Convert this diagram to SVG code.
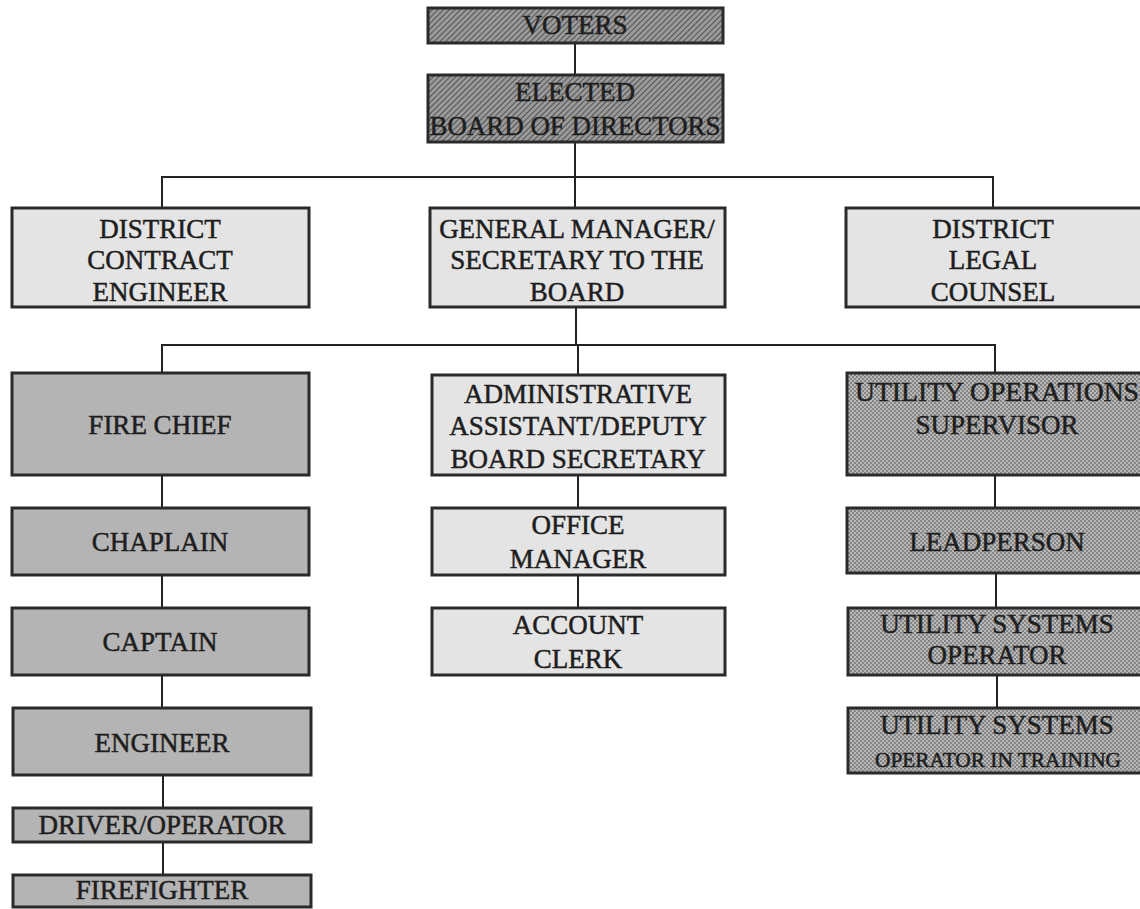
<svg xmlns="http://www.w3.org/2000/svg" width="1140" height="909" viewBox="0 0 1140 909">
<style>
.box{stroke:#2a2a2a;stroke-width:3}
.dark{fill:url(#hatch)}
.mid{fill:#b4b4b4}
.light{fill:#e4e4e4}
.util{fill:url(#check)}
.conn line{stroke:#222;stroke-width:2}
text{font-family:"Liberation Serif","Times New Roman",serif;font-size:27px;fill:#1e1e1e;stroke:#1e1e1e;stroke-width:0.5;text-anchor:middle}
.sm{font-size:20px}
</style>
<defs>
<pattern id="hatch" width="4" height="4" patternUnits="userSpaceOnUse" patternTransform="rotate(45)">
<rect width="4" height="4" fill="#9a9a9a"/>
<line x1="0" y1="0" x2="0" y2="4" stroke="#3a3a3a" stroke-width="1.5"/>
</pattern>
<pattern id="check" width="4" height="4" patternUnits="userSpaceOnUse">
<rect width="4" height="4" fill="#b8b8b8"/>
<rect width="2" height="2" fill="#858585"/>
<rect x="2" y="2" width="2" height="2" fill="#858585"/>
</pattern>
</defs>
<rect width="1140" height="909" fill="#ffffff"/>
<g id="connectors" class="conn">
<line x1="575" y1="43" x2="575" y2="75"/>
<line x1="575" y1="142" x2="575" y2="177"/>
<line x1="161" y1="177" x2="994" y2="177"/>
<line x1="162" y1="177" x2="162" y2="208"/>
<line x1="575" y1="177" x2="575" y2="208"/>
<line x1="993" y1="177" x2="993" y2="208"/>
<line x1="576" y1="307" x2="576" y2="345"/>
<line x1="161" y1="345" x2="996" y2="345"/>
<line x1="162" y1="345" x2="162" y2="373"/>
<line x1="578" y1="345" x2="578" y2="375"/>
<line x1="995" y1="345" x2="995" y2="373"/>
<line x1="162" y1="475" x2="162" y2="508"/>
<line x1="162" y1="575" x2="162" y2="608"/>
<line x1="162" y1="675" x2="162" y2="708"/>
<line x1="163" y1="775" x2="163" y2="808"/>
<line x1="163" y1="842" x2="163" y2="875"/>
<line x1="578" y1="475" x2="578" y2="508"/>
<line x1="578" y1="575" x2="578" y2="608"/>
<line x1="995" y1="475" x2="995" y2="508"/>
<line x1="996" y1="573" x2="996" y2="608"/>
<line x1="997" y1="675" x2="997" y2="708"/>
</g>
<g id="voters"><rect class="box dark" x="428" y="8" width="295" height="35"/><text x="575" y="34">VOTERS</text></g>
<g id="board"><rect class="box dark" x="428" y="75" width="295" height="67"/><text x="575" y="101">ELECTED</text><text x="575" y="135" textLength="291" lengthAdjust="spacingAndGlyphs">BOARD OF DIRECTORS</text></g>
<g id="contract-engineer"><rect class="box light" x="12" y="208" width="297" height="99"/><text x="160" y="238">DISTRICT</text><text x="160" y="269">CONTRACT</text><text x="160" y="301">ENGINEER</text></g>
<g id="general-manager"><rect class="box light" x="430" y="208" width="295" height="99"/><text x="577" y="238">GENERAL MANAGER/</text><text x="577" y="269">SECRETARY TO THE</text><text x="577" y="301">BOARD</text></g>
<g id="legal-counsel"><rect class="box light" x="846" y="208" width="300" height="99"/><text x="993" y="238">DISTRICT</text><text x="993" y="269">LEGAL</text><text x="993" y="301">COUNSEL</text></g>
<g id="fire-chief"><rect class="box mid" x="12" y="373" width="297" height="102"/><text x="160" y="434">FIRE CHIEF</text></g>
<g id="chaplain"><rect class="box mid" x="12" y="508" width="297" height="67"/><text x="160" y="551">CHAPLAIN</text></g>
<g id="captain"><rect class="box mid" x="12" y="608" width="297" height="67"/><text x="160" y="651">CAPTAIN</text></g>
<g id="engineer"><rect class="box mid" x="13" y="708" width="298" height="67"/><text x="162" y="752">ENGINEER</text></g>
<g id="driver-operator"><rect class="box mid" x="13" y="808" width="298" height="34"/><text x="162" y="834">DRIVER/OPERATOR</text></g>
<g id="firefighter"><rect class="box mid" x="13" y="875" width="298" height="32"/><text x="162" y="899">FIREFIGHTER</text></g>
<g id="admin-assistant"><rect class="box light" x="432" y="375" width="293" height="100"/><text x="578" y="403">ADMINISTRATIVE</text><text x="578" y="435">ASSISTANT/DEPUTY</text><text x="578" y="468">BOARD SECRETARY</text></g>
<g id="office-manager"><rect class="box light" x="432" y="508" width="293" height="67"/><text x="578" y="534">OFFICE</text><text x="578" y="568">MANAGER</text></g>
<g id="account-clerk"><rect class="box light" x="432" y="608" width="293" height="67"/><text x="578" y="634">ACCOUNT</text><text x="578" y="668">CLERK</text></g>
<g id="utility-supervisor"><rect class="box util" x="847" y="373" width="300" height="102"/><text x="997" y="401" textLength="284" lengthAdjust="spacingAndGlyphs">UTILITY OPERATIONS</text><text x="997" y="434">SUPERVISOR</text></g>
<g id="leadperson"><rect class="box util" x="847" y="508" width="300" height="65"/><text x="997" y="551">LEADPERSON</text></g>
<g id="utility-operator"><rect class="box util" x="848" y="608" width="300" height="67"/><text x="997" y="633">UTILITY SYSTEMS</text><text x="997" y="664">OPERATOR</text></g>
<g id="operator-training"><rect class="box util" x="848" y="708" width="300" height="65"/><text x="997" y="734">UTILITY SYSTEMS</text><text class="sm" x="998" y="767" textLength="246" lengthAdjust="spacingAndGlyphs">OPERATOR IN TRAINING</text></g>
</svg>
